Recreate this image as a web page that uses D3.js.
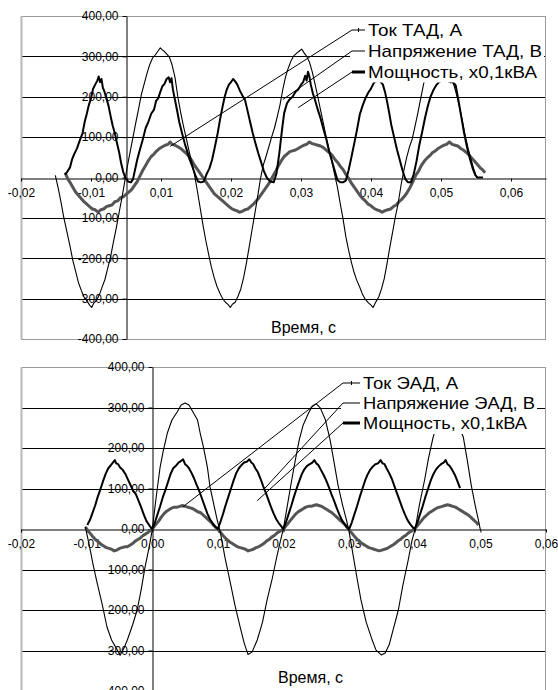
<!DOCTYPE html>
<html><head><meta charset="utf-8">
<script src="https://cdn.jsdelivr.net/npm/d3@7"></script>
<style>
body{margin:0;background:#fff}
svg{display:block}
text{font-family:"Liberation Sans",Arial,sans-serif;fill:#000}
</style>
</head><body>
<svg id="c" width="558" height="690"></svg>
<script>
// ---------- DATA ----------
const yTicks = [-400,-300,-200,-100,0,100,200,300,400];
const yTickLabels = ["-400,00","-300,00","-200,00","-100,00","0,00","100,00","200,00","300,00","400,00"];

const topXTicks = [-0.015,-0.005,0.005,0.015,0.025,0.035,0.045,0.055];
const topXLabels = ["-0,02","-0,01","0,01","0,02","0,03","0,04","0,05","0,06"];
const botXTicks = [-0.02,-0.01,0,0.01,0.02,0.03,0.04,0.05,0.06];
const botXLabels = ["-0,02","-0,01","0,00","0,01","0,02","0,03","0,04","0,05","0,06"];

const topLegend = ["Ток ТАД, А","Напряжение ТАД, В","Мощность, х0,1кВА"];
const botLegend = ["Ток ЭАД, А","Напряжение ЭАД, В","Мощность, х0,1кВА"];
const xTitle = "Время, с";

// top chart: voltage (thin)
const topVoltage = [[-0.0101,5],[-0.0097,-25],[-0.0093,-60],[-0.0089,-98],[-0.0085,-130],[-0.0080,-170],[-0.0076,-205],[-0.0072,-232],[-0.0068,-260],[-0.0064,-279],[-0.0060,-296],[-0.0056,-305],[-0.0052,-316],[-0.0049,-322],[-0.0046,-311],[-0.0042,-304],[-0.0038,-290],[-0.0034,-271],[-0.0030,-252],[-0.0026,-224],[-0.0022,-196],[-0.0018,-160],[-0.0014,-126],[-0.0010,-88],[-0.0006,-52],[-0.0002,-12],[0.0002,28],[0.0006,64],[0.0010,100],[0.0014,136],[0.0018,170],[0.0022,206],[0.0026,232],[0.0030,258],[0.0034,280],[0.0038,296],[0.0042,304],[0.0046,314],[0.0049,321],[0.0052,316],[0.0055,312],[0.0058,306],[0.0062,298],[0.0066,278],[0.0070,248],[0.0074,200],[0.0078,162],[0.0082,128],[0.0086,98],[0.0090,66],[0.0094,38],[0.0098,6],[0.0102,-34],[0.0106,-76],[0.0110,-118],[0.0114,-156],[0.0118,-190],[0.0122,-222],[0.0126,-248],[0.0130,-270],[0.0134,-286],[0.0138,-300],[0.0142,-309],[0.0146,-315],[0.0149,-322],[0.0152,-314],[0.0156,-309],[0.0160,-294],[0.0164,-276],[0.0168,-248],[0.0172,-212],[0.0176,-172],[0.0180,-130],[0.0184,-90],[0.0188,-48],[0.0192,-4],[0.0196,30],[0.0200,52],[0.0204,76],[0.0208,100],[0.0212,122],[0.0216,150],[0.0220,180],[0.0224,218],[0.0228,250],[0.0232,272],[0.0236,290],[0.0240,302],[0.0244,308],[0.0248,314],[0.0251,318],[0.0254,310],[0.0258,300],[0.0262,286],[0.0266,262],[0.0270,232],[0.0274,200],[0.0278,166],[0.0282,134],[0.0286,100],[0.0290,70],[0.0294,40],[0.0298,8],[0.0302,-24],[0.0306,-64],[0.0310,-102],[0.0314,-146],[0.0318,-180],[0.0322,-210],[0.0326,-236],[0.0330,-256],[0.0334,-272],[0.0338,-290],[0.0342,-302],[0.0346,-310],[0.0350,-316],[0.0353,-322],[0.0357,-308],[0.0361,-296],[0.0365,-276],[0.0369,-250],[0.0373,-212],[0.0377,-172],[0.0381,-134],[0.0385,-96],[0.0389,-62],[0.0393,-18],[0.0397,18],[0.0401,50],[0.0405,76],[0.0409,96],[0.0413,128],[0.0417,160],[0.0421,196],[0.0425,230],[0.0429,264],[0.0433,288],[0.0437,302],[0.0441,312],[0.0445,316],[0.0449,312],[0.0453,298],[0.0457,280],[0.0461,262],[0.0465,244],[0.0469,226],[0.0473,200],[0.0477,170],[0.0481,136],[0.0485,100],[0.0489,70],[0.0493,44],[0.0497,20],[0.0501,0]];

// top chart: current (medium black)
const topCurrent = [[-0.0087,7],[-0.0084,14],[-0.0080,25],[-0.0077,45],[-0.0074,58],[-0.0070,72],[-0.0066,92],[-0.0062,110],[-0.0059,138],[-0.0056,158],[-0.0053,180],[-0.0050,196],[-0.0047,220],[-0.0044,230],[-0.0041,240],[-0.0039,250],[-0.0037,236],[-0.0035,244],[-0.0033,222],[-0.0031,214],[-0.0028,196],[-0.0025,178],[-0.0022,152],[-0.0019,128],[-0.0016,110],[-0.0013,86],[-0.0010,64],[-0.0007,36],[-0.0004,14],[-0.0001,0],[0.0003,-10],[0.0007,-12],[0.0010,-4],[0.0013,20],[0.0016,44],[0.0020,70],[0.0024,94],[0.0028,122],[0.0032,138],[0.0036,158],[0.0040,168],[0.0043,190],[0.0046,196],[0.0049,212],[0.0052,226],[0.0055,232],[0.0058,244],[0.0061,248],[0.0063,236],[0.0065,246],[0.0067,218],[0.0070,192],[0.0073,166],[0.0076,138],[0.0080,110],[0.0084,84],[0.0088,62],[0.0091,44],[0.0095,26],[0.0099,6],[0.0103,-10],[0.0107,-12],[0.0111,-10],[0.0115,8],[0.0119,22],[0.0123,44],[0.0127,76],[0.0131,110],[0.0135,150],[0.0138,176],[0.0141,200],[0.0144,218],[0.0147,230],[0.0150,236],[0.0153,244],[0.0156,238],[0.0159,230],[0.0163,214],[0.0166,204],[0.0170,192],[0.0173,170],[0.0177,140],[0.0181,110],[0.0185,84],[0.0189,60],[0.0193,38],[0.0197,16],[0.0201,0],[0.0206,-10],[0.0211,-12],[0.0215,10],[0.0219,60],[0.0223,120],[0.0226,160],[0.0230,184],[0.0234,194],[0.0238,200],[0.0242,212],[0.0246,218],[0.0250,230],[0.0253,236],[0.0256,252],[0.0258,240],[0.0260,262],[0.0262,250],[0.0264,230],[0.0267,208],[0.0270,192],[0.0274,168],[0.0278,146],[0.0282,120],[0.0286,96],[0.0290,66],[0.0294,42],[0.0298,18],[0.0302,-6],[0.0306,-12],[0.0310,-12],[0.0314,-8],[0.0318,18],[0.0322,50],[0.0326,84],[0.0330,118],[0.0334,156],[0.0338,178],[0.0342,196],[0.0346,210],[0.0350,220],[0.0354,234],[0.0358,240],[0.0361,244],[0.0364,236],[0.0367,230],[0.0370,212],[0.0373,188],[0.0376,160],[0.0379,130],[0.0383,100],[0.0387,70],[0.0391,44],[0.0395,18],[0.0399,-4],[0.0403,-12],[0.0407,-12],[0.0411,8],[0.0415,40],[0.0419,80],[0.0423,112],[0.0427,146],[0.0431,176],[0.0435,200],[0.0439,216],[0.0443,228],[0.0447,236],[0.0451,240],[0.0455,246],[0.0459,240],[0.0463,236],[0.0467,236],[0.0471,228],[0.0475,190],[0.0479,150],[0.0483,110],[0.0487,76],[0.0491,48],[0.0495,24],[0.0499,6],[0.0502,0],[0.0510,0]];

// top chart: power (thick gray)
const topPower = [[-0.0087,12],[-0.0083,-4],[-0.0080,-12],[-0.0076,-24],[-0.0072,-36],[-0.0068,-44],[-0.0064,-52],[-0.0060,-60],[-0.0056,-66],[-0.0052,-72],[-0.0048,-78],[-0.0044,-80],[-0.0040,-86],[-0.0036,-80],[-0.0032,-78],[-0.0028,-72],[-0.0024,-70],[-0.0020,-68],[-0.0016,-60],[-0.0012,-58],[-0.0008,-50],[-0.0004,-48],[0.0000,-42],[0.0004,-36],[0.0008,-30],[0.0012,-20],[0.0016,-10],[0.0020,4],[0.0024,18],[0.0028,30],[0.0032,42],[0.0036,52],[0.0040,58],[0.0044,66],[0.0048,72],[0.0052,76],[0.0056,80],[0.0060,82],[0.0063,88],[0.0066,82],[0.0070,80],[0.0074,76],[0.0078,72],[0.0082,66],[0.0086,60],[0.0090,52],[0.0094,42],[0.0098,30],[0.0102,20],[0.0106,10],[0.0110,0],[0.0114,-10],[0.0118,-20],[0.0122,-30],[0.0126,-40],[0.0130,-46],[0.0134,-52],[0.0138,-58],[0.0142,-64],[0.0146,-70],[0.0150,-76],[0.0154,-80],[0.0158,-82],[0.0162,-86],[0.0166,-84],[0.0170,-80],[0.0174,-78],[0.0178,-72],[0.0182,-66],[0.0186,-58],[0.0190,-50],[0.0194,-40],[0.0198,-30],[0.0202,-20],[0.0206,-10],[0.0210,4],[0.0214,16],[0.0218,30],[0.0222,42],[0.0226,52],[0.0230,58],[0.0234,64],[0.0238,66],[0.0242,68],[0.0246,72],[0.0250,76],[0.0254,80],[0.0258,82],[0.0262,88],[0.0266,84],[0.0270,82],[0.0274,80],[0.0278,78],[0.0282,74],[0.0286,68],[0.0290,62],[0.0294,56],[0.0298,46],[0.0302,38],[0.0306,28],[0.0310,20],[0.0314,8],[0.0318,-2],[0.0322,-14],[0.0326,-24],[0.0330,-34],[0.0334,-44],[0.0338,-52],[0.0342,-58],[0.0346,-66],[0.0350,-70],[0.0354,-76],[0.0358,-80],[0.0362,-82],[0.0366,-86],[0.0370,-82],[0.0374,-80],[0.0378,-78],[0.0382,-72],[0.0386,-68],[0.0390,-60],[0.0394,-54],[0.0398,-46],[0.0402,-36],[0.0406,-24],[0.0410,-10],[0.0414,6],[0.0418,16],[0.0422,30],[0.0426,40],[0.0430,48],[0.0434,54],[0.0438,62],[0.0442,66],[0.0446,72],[0.0450,76],[0.0454,80],[0.0458,82],[0.0462,88],[0.0466,82],[0.0470,80],[0.0474,78],[0.0478,72],[0.0482,68],[0.0486,62],[0.0490,56],[0.0494,48],[0.0498,40],[0.0502,32],[0.0506,24],[0.0510,18],[0.0513,12]];

// bottom chart: voltage (thin)
const botVoltage = [[-0.0102,5],[-0.0096,-40],[-0.0090,-89],[-0.0084,-133],[-0.0076,-188],[-0.0069,-242],[-0.0062,-274],[-0.0056,-291],[-0.0049,-312],[-0.0043,-294],[-0.0038,-274],[-0.0030,-237],[-0.0023,-200],[-0.0017,-151],[-0.0011,-94],[-0.0005,-47],[0.0000,-2],[0.0006,79],[0.0012,153],[0.0017,195],[0.0023,237],[0.0030,269],[0.0038,289],[0.0044,306],[0.0050,311],[0.0056,306],[0.0062,289],[0.0069,269],[0.0073,237],[0.0078,202],[0.0084,153],[0.0088,104],[0.0094,59],[0.0099,22],[0.0104,-10],[0.0111,-72],[0.0119,-133],[0.0126,-188],[0.0134,-242],[0.0140,-281],[0.0146,-310],[0.0152,-304],[0.0160,-274],[0.0168,-230],[0.0175,-175],[0.0183,-121],[0.0190,-67],[0.0195,-32],[0.0200,2],[0.0206,59],[0.0212,116],[0.0218,170],[0.0224,220],[0.0230,257],[0.0238,286],[0.0244,304],[0.0250,309],[0.0256,299],[0.0264,269],[0.0271,220],[0.0277,165],[0.0283,109],[0.0290,59],[0.0296,22],[0.0300,-7],[0.0306,-64],[0.0312,-121],[0.0318,-175],[0.0326,-230],[0.0334,-269],[0.0341,-299],[0.0349,-311],[0.0355,-306],[0.0361,-286],[0.0367,-249],[0.0375,-200],[0.0382,-138],[0.0390,-77],[0.0396,-27],[0.0401,2],[0.0407,59],[0.0415,121],[0.0421,175],[0.0428,227],[0.0436,269],[0.0445,294],[0.0454,294],[0.0463,269],[0.0474,227],[0.0480,170],[0.0486,109],[0.0492,59],[0.0497,22],[0.0500,-2]];

// bottom chart: current (medium black)
const botCurrent = [[-0.0099,10],[-0.0095,22],[-0.0091,40],[-0.0087,58],[-0.0083,80],[-0.0079,98],[-0.0075,118],[-0.0071,136],[-0.0067,150],[-0.0063,158],[-0.0060,164],[-0.0057,170],[-0.0055,162],[-0.0052,160],[-0.0049,152],[-0.0045,146],[-0.0041,136],[-0.0037,122],[-0.0033,108],[-0.0029,94],[-0.0025,86],[-0.0021,70],[-0.0017,54],[-0.0013,36],[-0.0009,20],[-0.0004,8],[0.0000,0],[0.0004,16],[0.0008,36],[0.0012,56],[0.0016,78],[0.0020,96],[0.0024,116],[0.0028,136],[0.0032,150],[0.0036,156],[0.0040,164],[0.0044,168],[0.0047,172],[0.0050,160],[0.0053,156],[0.0056,150],[0.0060,138],[0.0064,124],[0.0068,108],[0.0072,92],[0.0076,74],[0.0080,56],[0.0084,38],[0.0088,24],[0.0092,14],[0.0096,6],[0.0100,0],[0.0104,18],[0.0108,38],[0.0112,60],[0.0116,80],[0.0120,100],[0.0124,120],[0.0128,138],[0.0132,150],[0.0136,158],[0.0140,164],[0.0144,166],[0.0148,172],[0.0151,164],[0.0154,160],[0.0157,150],[0.0161,140],[0.0165,124],[0.0169,106],[0.0173,90],[0.0177,72],[0.0181,54],[0.0185,38],[0.0189,24],[0.0193,14],[0.0197,6],[0.0200,0],[0.0204,18],[0.0208,38],[0.0212,58],[0.0216,80],[0.0220,100],[0.0224,118],[0.0228,136],[0.0232,148],[0.0236,156],[0.0240,160],[0.0244,164],[0.0247,170],[0.0250,162],[0.0253,158],[0.0257,146],[0.0261,134],[0.0265,120],[0.0269,104],[0.0273,86],[0.0277,70],[0.0281,52],[0.0285,36],[0.0289,22],[0.0293,12],[0.0297,4],[0.0300,0],[0.0304,16],[0.0308,36],[0.0312,56],[0.0316,78],[0.0320,98],[0.0324,118],[0.0328,134],[0.0332,146],[0.0336,154],[0.0340,160],[0.0344,162],[0.0348,170],[0.0351,162],[0.0354,160],[0.0357,150],[0.0361,138],[0.0365,124],[0.0369,106],[0.0373,88],[0.0377,70],[0.0381,52],[0.0385,36],[0.0389,22],[0.0393,12],[0.0397,4],[0.0400,0],[0.0404,16],[0.0408,36],[0.0412,56],[0.0416,78],[0.0420,98],[0.0424,118],[0.0428,134],[0.0432,146],[0.0436,154],[0.0440,160],[0.0444,164],[0.0447,170],[0.0450,160],[0.0453,156],[0.0457,146],[0.0461,134],[0.0465,118],[0.0469,101]];

// bottom chart: power (thick gray)
const botPower = [[-0.0102,5],[-0.0098,-4],[-0.0094,-12],[-0.0090,-20],[-0.0086,-27],[-0.0082,-32],[-0.0078,-38],[-0.0074,-42],[-0.0070,-46],[-0.0066,-48],[-0.0062,-50],[-0.0058,-54],[-0.0054,-52],[-0.0050,-48],[-0.0046,-46],[-0.0042,-44],[-0.0038,-44],[-0.0034,-40],[-0.0030,-36],[-0.0026,-30],[-0.0022,-26],[-0.0018,-22],[-0.0014,-16],[-0.0010,-12],[-0.0006,-8],[-0.0002,-2],[0.0002,4],[0.0006,12],[0.0010,20],[0.0014,30],[0.0018,38],[0.0022,44],[0.0026,48],[0.0030,52],[0.0034,54],[0.0038,54],[0.0042,56],[0.0046,58],[0.0050,56],[0.0054,54],[0.0058,52],[0.0062,50],[0.0066,46],[0.0070,42],[0.0074,40],[0.0078,34],[0.0082,28],[0.0086,22],[0.0090,16],[0.0094,8],[0.0098,2],[0.0102,-4],[0.0106,-12],[0.0110,-20],[0.0114,-26],[0.0118,-32],[0.0122,-36],[0.0126,-40],[0.0130,-44],[0.0134,-46],[0.0138,-48],[0.0142,-50],[0.0146,-54],[0.0150,-52],[0.0154,-50],[0.0158,-46],[0.0162,-44],[0.0166,-40],[0.0170,-36],[0.0174,-30],[0.0178,-26],[0.0182,-20],[0.0186,-16],[0.0190,-10],[0.0194,-6],[0.0198,-2],[0.0202,4],[0.0206,12],[0.0210,20],[0.0214,28],[0.0218,36],[0.0222,42],[0.0226,46],[0.0230,50],[0.0234,54],[0.0238,56],[0.0242,56],[0.0246,58],[0.0250,60],[0.0254,58],[0.0258,56],[0.0262,52],[0.0266,48],[0.0270,44],[0.0274,40],[0.0278,34],[0.0282,28],[0.0286,22],[0.0290,16],[0.0294,10],[0.0298,2],[0.0302,-6],[0.0306,-14],[0.0310,-22],[0.0314,-28],[0.0318,-34],[0.0322,-38],[0.0326,-42],[0.0330,-46],[0.0334,-48],[0.0338,-50],[0.0342,-52],[0.0346,-54],[0.0350,-52],[0.0354,-50],[0.0358,-48],[0.0362,-44],[0.0366,-40],[0.0370,-36],[0.0374,-30],[0.0378,-26],[0.0382,-20],[0.0386,-16],[0.0390,-10],[0.0394,-6],[0.0398,-2],[0.0402,4],[0.0406,12],[0.0410,20],[0.0414,28],[0.0418,34],[0.0422,40],[0.0426,44],[0.0430,48],[0.0434,52],[0.0438,54],[0.0442,56],[0.0446,58],[0.0450,60],[0.0454,58],[0.0458,56],[0.0462,54],[0.0466,50],[0.0470,46],[0.0474,42],[0.0478,38],[0.0482,34],[0.0486,28],[0.0490,22],[0.0494,16],[0.0497,10]];

// leader-line targets (data coordinates) for the three legend labels
const topLeaderTargets = [[0.0063,77],[0.0224,193],[0.0246,173]];
const botLeaderTargets = [[0.0046,54],[0.0169,96],[0.0160,70]];

// ---------- DRAW ----------
const svg = d3.select("#c");
svg.append("rect").attr("width",558).attr("height",690).attr("fill","#fff");

function drawChart(cfg){
  const g = svg.append("g");
  const x = d3.scaleLinear().domain(cfg.xDomain).range([cfg.left, cfg.right]);
  const y = d3.scaleLinear().domain([-400,400]).range([cfg.bottom, cfg.top]);

  // gridlines
  g.append("g").selectAll("line").data(yTicks.filter(v=>v!==0 && Math.abs(v)!==400)).join("line")
    .attr("x1",cfg.left).attr("x2",cfg.right)
    .attr("y1",d=>Math.round(y(d))+0.5).attr("y2",d=>Math.round(y(d))+0.5)
    .attr("stroke","#000").attr("stroke-width",1);

  // plot border
  g.append("rect").attr("x",cfg.left+0.5).attr("y",Math.round(cfg.top)+0.5)
    .attr("width",cfg.right-cfg.left-1).attr("height",Math.round(cfg.bottom-cfg.top))
    .attr("fill","none").attr("stroke","#9a9a9a").attr("stroke-width",1);
  g.append("line").attr("x1",cfg.left+0.5).attr("x2",cfg.left+0.5)
    .attr("y1",cfg.top).attr("y2",cfg.bottom).attr("stroke","#b8b8b8").attr("stroke-width",2);

  // x axis (at y=0)
  const xAxis = d3.axisBottom(x).tickValues(cfg.xTicks).tickSize(3)
    .tickFormat((d,i)=>cfg.xLabels[i]).tickSizeOuter(0);
  const xa = g.append("g").attr("transform",`translate(0,${Math.round(y(0))+0.5})`).call(xAxis);
  xa.select(".domain").attr("stroke","#000");
  xa.selectAll(".tick line").attr("stroke","#000");
  xa.selectAll(".tick text").attr("font-size",12).attr("dy","1.0em")
    .attr("font-family","'Liberation Sans',Arial,sans-serif");

  // y axis (at x=0)
  const yAxis = d3.axisLeft(y).tickValues(yTicks).tickSize(4)
    .tickFormat((d,i)=>yTickLabels[i]).tickSizeOuter(0);
  const ya = g.append("g").attr("transform",`translate(${Math.round(x(0))+0.5},0)`).call(yAxis);
  ya.select(".domain").attr("stroke","#000");
  ya.selectAll(".tick line").attr("stroke","#000");
  ya.selectAll(".tick text").attr("font-size",12).attr("x",-8)
    .attr("font-family","'Liberation Sans',Arial,sans-serif");

  // series
  const line = d3.line().x(d=>x(d[0])).y(d=>y(d[1]));
  g.append("path").datum(cfg.power).attr("d",line).attr("fill","none")
    .attr("stroke","#555").attr("stroke-width",3).attr("stroke-linejoin","round");
  g.append("path").datum(cfg.voltage).attr("d",line).attr("fill","none")
    .attr("stroke","#000").attr("stroke-width",1.1).attr("stroke-linejoin","round");
  g.append("path").datum(cfg.current).attr("d",line).attr("fill","none")
    .attr("stroke","#000").attr("stroke-width",2).attr("stroke-linejoin","round");

  // axis title
  g.append("text").attr("x",cfg.titleX).attr("y",cfg.titleY).attr("font-size",16)
    .attr("dominant-baseline","central").text(xTitle);

  // legend labels with leader lines
  cfg.legend.forEach((t,i)=>{
    const ly = cfg.legendY[i];
    const w = cfg.legendW[i];
    g.append("rect")
      .attr("x",cfg.markX0-2).attr("y",ly-cfg.boxH/2).attr("width",cfg.legendX+w-cfg.markX0+4)
      .attr("height",cfg.boxH).attr("fill","#fff");
    g.append("text").attr("x",cfg.legendX).attr("y",ly).attr("font-size",cfg.legendFont)
      .attr("dominant-baseline","central").attr("textLength",w).attr("lengthAdjust","spacingAndGlyphs").text(t);
    const tgt = cfg.leaders[i];
    g.append("line").attr("x1",cfg.markX0).attr("y1",ly).attr("x2",x(tgt[0])).attr("y2",y(tgt[1]))
      .attr("stroke","#000").attr("stroke-width",1);
    g.append("line").attr("x1",cfg.markX0).attr("x2",cfg.legendX-3).attr("y1",ly).attr("y2",ly)
      .attr("stroke","#000").attr("stroke-width",i===2?3:1);
    if(i===0){
      const mx=(cfg.markX0+cfg.legendX-3)/2;
      g.append("line").attr("x1",mx).attr("x2",mx).attr("y1",ly-2).attr("y2",ly+2).attr("stroke","#000");
    }
  });
}

drawChart({left:21,right:546,top:16,bottom:339,xDomain:[-0.015,0.06],
  xTicks:topXTicks,xLabels:topXLabels,voltage:topVoltage,current:topCurrent,power:topPower,
  titleX:271,titleY:327,legend:topLegend,legendX:368,legendY:[30,51,72],legendW:[94,174,169],legendFont:17,markX0:352,boxH:21,
  leaders:topLeaderTargets});
drawChart({left:21,right:546,top:367,bottom:691,xDomain:[-0.02,0.06],
  xTicks:botXTicks,xLabels:botXLabels,voltage:botVoltage,current:botCurrent,power:botPower,
  titleX:278,titleY:677,legend:botLegend,legendX:363,legendY:[383,403,423],legendW:[95,172,164],legendFont:17,markX0:343,boxH:22,
  leaders:botLeaderTargets});
</script>
</body></html>
